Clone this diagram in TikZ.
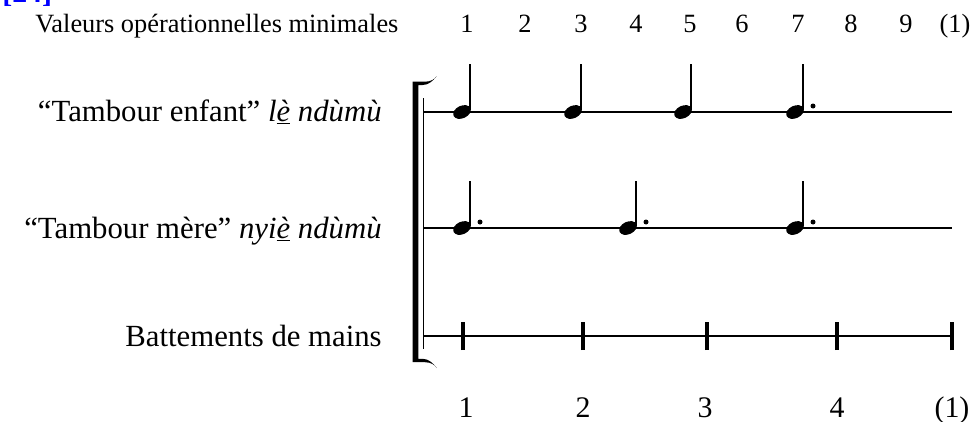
\documentclass[tikz,border=0pt]{standalone}
\usepackage{fontspec}
\setmainfont{Liberation Serif}
\usetikzlibrary{positioning, calc}

\begin{document}
\begin{tikzpicture}[
    portee/.style={line width=0.9pt},
    hampe/.style={line width=1pt},
    battement/.style={line width=2.2pt},
    libelle/.style={anchor=base east, inner sep=0pt, font=\fontsize{17.5}{21}\selectfont},
    valeur/.style={anchor=base, inner sep=0pt, font=\fontsize{15}{18}\selectfont},
    temps/.style={anchor=base, inner sep=0pt, font=\fontsize{17}{20}\selectfont}
  ]
    \useasboundingbox (0,0) rectangle (19.44,8.42);

    % renvoi (coupé en haut)
    \node[anchor=base west, inner sep=0pt, text=blue, font=\fontsize{17}{20}\selectfont\bfseries] (renvoi) at (0.04,8.38) {[24]};

    % valeurs opérationnelles minimales
    \node[anchor=base west, inner sep=0pt, font=\fontsize{15}{18}\selectfont] (valeurs) at (0.70,7.77) {Valeurs opérationnelles minimales};
    \foreach \x/\t [count=\i] in {9.34/1, 10.50/2, 11.62/3, 12.72/4, 13.80/5, 14.84/6, 15.96/7, 17.02/8, 18.12/9, 19.10/(1)}
        \node[valeur] (v\i) at (\x,7.77) {\t};

    % accolade
    \fill (8.254,6.786) -- (8.50,6.786) .. controls (8.62,6.786) and (8.70,6.84) .. (8.734,6.90)
        .. controls (8.66,6.80) and (8.57,6.72) .. (8.45,6.72) -- (8.366,6.72) -- (8.366,1.244) -- (8.45,1.244)
        .. controls (8.57,1.244) and (8.66,1.16) .. (8.734,1.06)
        .. controls (8.70,1.12) and (8.62,1.176) .. (8.50,1.176) -- (8.254,1.176) -- cycle;
    \draw[line width=0.8pt] (8.47,6.46) -- (8.47,1.44);

    % lignes
    \draw[portee] (8.47,6.18) -- (19.04,6.18);
    \draw[portee] (8.47,3.86) -- (19.04,3.86);
    \draw[portee] (8.47,1.70) -- (19.04,1.70);

    % libellés
    \node[libelle] (enfant) at (7.64,6.00) {“Tambour enfant” \textit{l\underline{è} ndùmù}};
    \node[libelle] (mere) at (7.64,3.66) {“Tambour mère” \textit{nyi\underline{è} ndùmù}};
    \node[libelle] (mains) at (7.64,1.50) {Battements de mains};

    % tambour enfant
    \foreach \x in {9.24, 11.46, 13.66, 15.90} {
        \fill[rotate around={25:(\x,6.18)}] (\x,6.18) ellipse (0.185 and 0.125);
        \draw[hampe] (\x+0.165,6.22) -- (\x+0.165,7.14);
    }
    \fill (16.26,6.30) circle (0.05);

    % tambour mère
    \foreach \x in {9.24, 12.56, 15.90} {
        \fill[rotate around={25:(\x,3.86)}] (\x,3.86) ellipse (0.185 and 0.125);
        \draw[hampe] (\x+0.165,3.90) -- (\x+0.165,4.80);
        \fill (\x+0.36,3.98) circle (0.05);
    }

    % battements
    \foreach \x in {9.26, 11.66, 14.14, 16.74, 19.04}
        \draw[battement] (\x,1.42) -- (\x,1.98);
    \foreach \x/\t [count=\i] in {9.32/1, 11.66/2, 14.10/3, 16.74/4, 19.04/(1)}
        \node[temps] (b\i) at (\x,0.08) {\t};
\end{tikzpicture}
\end{document}
